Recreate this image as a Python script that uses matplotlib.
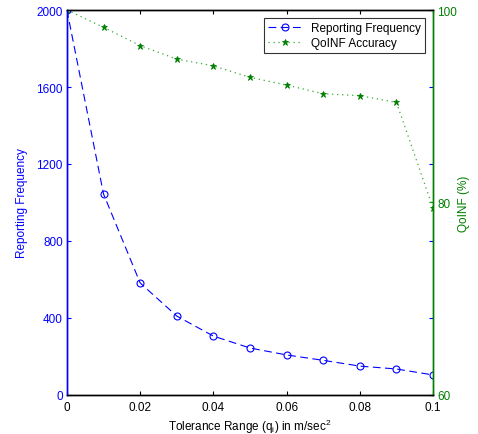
import matplotlib
matplotlib.use("Agg")
import matplotlib.pyplot as plt

plt.rcParams['font.family'] = ['Liberation Sans', 'DejaVu Sans']
plt.rcParams['font.size'] = 8.5

x = [0, 0.01, 0.02, 0.03, 0.04, 0.05, 0.06, 0.07, 0.08, 0.09, 0.1]
freq = [2000, 1044, 582, 410, 306, 244, 208, 180, 150, 135, 104]
acc = [100, 98.2, 96.3, 94.9, 94.2, 93.0, 92.2, 91.3, 91.1, 90.4, 79.4]
xticks = [0, 0.02, 0.04, 0.06, 0.08, 0.1]
xticklabels = ['0', '0.02', '0.04', '0.06', '0.08', '0.1']
lticks = [0, 400, 800, 1200, 1600, 2000]
rticks = [60, 80, 100]

blue = '#0000ff'
green = '#007f00'
fs = 8.5

fig = plt.figure(figsize=(4.78, 4.35), dpi=100)
ax1 = fig.add_axes([0.140, 0.0897, 0.766, 0.885])
ax2 = ax1.twinx()

l1, = ax1.plot(x, freq, color=blue, linestyle=(0, (7, 4)), linewidth=0.8,
               marker='o', markersize=5, markerfacecolor='none',
               markeredgecolor=blue, markeredgewidth=0.8)
l2, = ax2.plot(x, acc, color='#33aa33', linestyle=(0, (1, 3)), linewidth=0.9,
               marker='*', markersize=4.5, markerfacecolor=green,
               markeredgecolor=green, markeredgewidth=0.6)

ax1.set_xlim(0, 0.1)
ax1.set_ylim(0, 2000)
ax2.set_ylim(60, 100)
ax1.set_xticks(xticks)
ax1.set_xticklabels(xticklabels)
ax1.set_yticks(lticks)
ax2.set_yticks(rticks)

ax1.tick_params(axis='x', direction='in', top=True, length=3, colors='black', labelsize=fs, pad=4)
ax1.tick_params(axis='y', direction='in', right=True, length=3, color=blue, labelcolor=blue, labelsize=fs, pad=3)
ax2.tick_params(axis='y', direction='in', length=3, color=green, labelcolor=green, labelsize=fs, pad=3)

for sp in ['top', 'bottom']:
    ax1.spines[sp].set_color('black')
    ax2.spines[sp].set_color('black')
ax2.spines['left'].set_color(blue)
ax1.spines['left'].set_color(blue)
ax2.spines['right'].set_color(green)
ax1.spines['right'].set_color(green)
for ax in (ax1, ax2):
    for sp in ax.spines.values():
        sp.set_linewidth(1.0)

ax1.set_xlabel(r'Tolerance Range (q$_\mathregular{i}$) in m/sec$^\mathregular{2}$', fontsize=fs, labelpad=3)
ax1.set_ylabel('Reporting Frequency', color=blue, fontsize=fs, labelpad=6)
ax2.set_ylabel('QoINF (%)', color=green, fontsize=fs, labelpad=1)

leg = ax2.legend([l1, l2], ['Reporting Frequency', 'QoINF Accuracy'], loc='upper right',
                 fontsize=fs, frameon=True, fancybox=False, edgecolor='black',
                 borderaxespad=0.7, handlelength=2.8, labelspacing=0.25, borderpad=0.35)
leg.get_frame().set_linewidth(0.8)

fig.savefig('out.png', dpi=100)
